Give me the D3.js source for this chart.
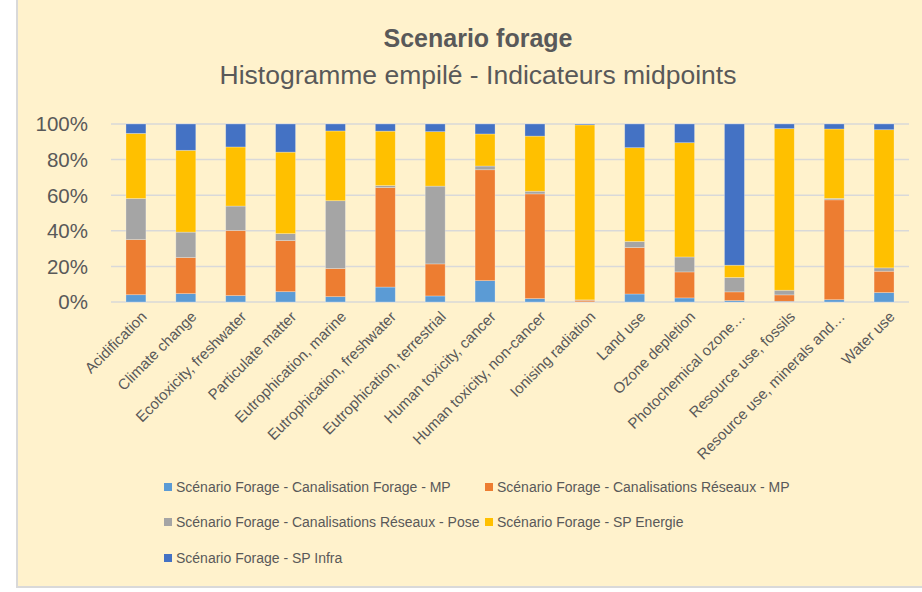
<!DOCTYPE html>
<html>
<head>
<meta charset="utf-8">
<title>Scenario forage</title>
<script src="https://cdn.jsdelivr.net/npm/d3@7"></script>
<style>
  html, body { margin: 0; padding: 0; background: #fff; }
  svg { display: block; }
  text { font-family: "Liberation Sans", Arial, sans-serif; fill: #595959; }
</style>
</head>
<body>
<svg id="chart" width="922" height="592"></svg>
<script>
// categories (x axis)
var categories = ["Acidification", "Climate change", "Ecotoxicity, freshwater", "Particulate matter",
  "Eutrophication, marine", "Eutrophication, freshwater", "Eutrophication, terrestrial",
  "Human toxicity, cancer", "Human toxicity, non-cancer", "Ionising radiation", "Land use",
  "Ozone depletion", "Photochemical ozone\u2026", "Resource use, fossils",
  "Resource use, minerals and\u2026", "Water use"];

var seriesNames = ["Scénario Forage - Canalisation Forage - MP", "Scénario Forage - Canalisations Réseaux - MP",
  "Scénario Forage - Canalisations Réseaux - Pose", "Scénario Forage - SP Energie", "Scénario Forage - SP Infra"];

// share of each contribution, in %
var forageMP   = [4.1, 4.7, 3.6, 5.8, 3.0, 8.4, 3.4, 12.0, 1.9, 0.1, 4.5, 2.3, 0.8, 0.4, 1.3, 5.3];
var reseauxMP  = [31.0, 20.3, 36.6, 28.7, 15.8, 55.9, 18.0, 62.3, 58.9, 0.9, 26.1, 14.6, 4.9, 3.6, 56.1, 12.0];
var reseauxPose = [23.1, 14.3, 13.7, 3.9, 38.1, 1.1, 43.7, 2.1, 1.5, 0.2, 3.4, 8.4, 8.1, 2.6, 0.8, 1.9];
var spEnergie  = [36.6, 46.0, 33.2, 45.8, 39.2, 30.6, 30.6, 18.0, 31.0, 98.3, 52.7, 64.2, 6.9, 90.8, 39.0, 77.7];
var spInfra    = [5.3, 14.8, 12.9, 15.8, 3.9, 4.0, 4.3, 5.6, 6.8, 0.5, 13.3, 10.5, 79.4, 2.6, 2.8, 3.2];

var yTicks = [0, 0.2, 0.4, 0.6, 0.8, 1];

var colors = ["#5B9BD5", "#ED7D31", "#A5A5A5", "#FFC000", "#4472C4"];
var keys = ["forageMP", "reseauxMP", "reseauxPose", "spEnergie", "spInfra"];

var rows = categories.map(function(c, i) {
  return { cat: c, forageMP: forageMP[i], reseauxMP: reseauxMP[i], reseauxPose: reseauxPose[i],
           spEnergie: spEnergie[i], spInfra: spInfra[i] };
});

var svg = d3.select("#chart");

// background + frame
svg.append("rect").attr("x", 17).attr("y", 0).attr("width", 905).attr("height", 587)
  .attr("fill", "#FFF2CC");
svg.append("path").attr("d", "M17,0 V587 H922")
  .attr("fill", "none").attr("stroke", "#D9D9D9").attr("stroke-width", 2);

// titles
svg.append("text").attr("x", 478).attr("y", 47).attr("text-anchor", "middle")
  .attr("font-size", 25).attr("font-weight", "bold").text("Scenario forage");
svg.append("text").attr("x", 478).attr("y", 84).attr("text-anchor", "middle")
  .attr("font-size", 26.5).text("Histogramme empilé - Indicateurs midpoints");

var x = d3.scaleBand().domain(categories).range([111, 909])
  .paddingInner(0.6).paddingOuter(0.3);
var y = d3.scaleLinear().domain([0, 1]).range([302, 124]);

// gridlines
svg.append("g").selectAll("line").data(yTicks).enter().append("line")
  .attr("x1", 111).attr("x2", 909)
  .attr("y1", function(d) { return y(d); }).attr("y2", function(d) { return y(d); })
  .attr("stroke", "#D9D9D9").attr("stroke-width", 1.5);

// y axis labels
svg.append("g").selectAll("text").data(yTicks).enter().append("text")
  .attr("x", 88).attr("y", function(d) { return y(d); }).attr("dy", "0.36em")
  .attr("text-anchor", "end").attr("font-size", 20.5)
  .text(function(d) { return d3.format(".0%")(d); });

// stacked bars
var stack = d3.stack().keys(keys).offset(d3.stackOffsetExpand);
var layers = stack(rows);

svg.append("g").selectAll("g").data(layers).enter().append("g")
  .attr("fill", function(d, i) { return colors[i]; })
  .selectAll("rect").data(function(d) { return d; }).enter().append("rect")
  .attr("x", function(d) { return x(d.data.cat); })
  .attr("width", x.bandwidth())
  .attr("y", function(d) { return y(d[1]); })
  .attr("height", function(d) { return y(d[0]) - y(d[1]); })
  .attr("stroke", "#ffffff").attr("stroke-opacity", 0.35).attr("stroke-width", 0.75);

// x labels
svg.append("g").selectAll("text").data(categories).enter().append("text")
  .attr("transform", function(d) {
    return "translate(" + (x(d) + x.bandwidth() / 2 + 8) + ",314) rotate(-45)";
  })
  .attr("text-anchor", "end").attr("font-size", 15).attr("dy", "0.35em")
  .text(function(d) { return d; });

// legend
var legendPos = [[164, 492], [485, 492], [164, 527], [485, 527], [164, 563]];
var lg = svg.append("g").selectAll("g").data(seriesNames).enter().append("g")
  .attr("transform", function(d, i) { return "translate(" + legendPos[i][0] + "," + legendPos[i][1] + ")"; });
lg.append("rect").attr("x", 0).attr("y", -9).attr("width", 8).attr("height", 8)
  .attr("fill", function(d, i) { return colors[i]; });
lg.append("text").attr("x", 12).attr("y", 0).attr("font-size", 14)
  .text(function(d) { return d; });
</script>
</body>
</html>
